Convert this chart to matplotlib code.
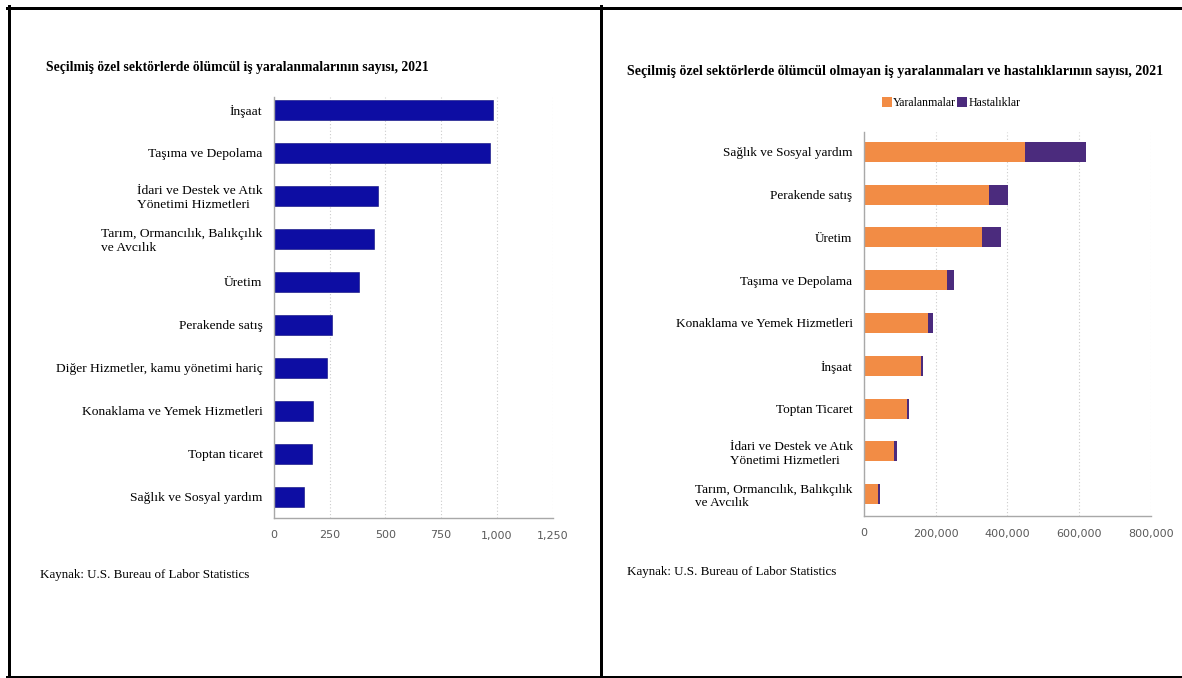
#!/usr/bin/env python3
"""
Two side-by-side horizontal bar charts (BLS 2021): fatal work injuries by
sector, and non-fatal injuries + illnesses by sector. Writes out.png.
"""

import matplotlib
matplotlib.use("Agg")
import matplotlib.pyplot as plt
from matplotlib.lines import Line2D
from matplotlib.patches import Patch
from matplotlib.ticker import FuncFormatter

# --- data -----------------------------------------------------------------
fatal_sectors = [
    "İnşaat",
    "Taşıma ve Depolama",
    "İdari ve Destek ve Atık\nYönetimi Hizmetleri",
    "Tarım, Ormancılık, Balıkçılık\nve Avcılık",
    "Üretim",
    "Perakende satış",
    "Diğer Hizmetler, kamu yönetimi hariç",
    "Konaklama ve Yemek Hizmetleri",
    "Toptan ticaret",
    "Sağlık ve Sosyal yardım",
]
fatal_counts = [984, 969, 466, 450, 381, 260, 237, 178, 173, 134]
fatal_ticks = [0, 250, 500, 750, 1000, 1250]

nonfatal_sectors = [
    "Sağlık ve Sosyal yardım",
    "Perakende satış",
    "Üretim",
    "Taşıma ve Depolama",
    "Konaklama ve Yemek Hizmetleri",
    "İnşaat",
    "Toptan Ticaret",
    "İdari ve Destek ve Atık\nYönetimi Hizmetleri",
    "Tarım, Ormancılık, Balıkçılık\nve Avcılık",
]
injuries = [449200, 349900, 330400, 231100, 179100, 159600, 121600, 85400, 39000]
illnesses = [169800, 52000, 52000, 19500, 13000, 5600, 5500, 8300, 5500]
nonfatal_ticks = [0, 200000, 400000, 600000, 800000]

TITLE_L = "Seçilmiş özel sektörlerde ölümcül iş yaralanmalarının sayısı, 2021"
TITLE_R = ("Seçilmiş özel sektörlerde ölümcül olmayan iş yaralanmaları "
           "ve hastalıklarının sayısı, 2021")
SOURCE = "Kaynak: U.S. Bureau of Labor Statistics"

NAVY = "#0d0da3"
ORANGE = "#f28c45"
PURPLE = "#4b2b7d"
SERIF = "Liberation Serif"
SANS = "DejaVu Sans"

W, H = 1182, 678


def px_axes(fig, x0, y0, x1, y1):
    # pixel box (top-left origin) -> figure axes
    return fig.add_axes([x0 / W, 1 - y1 / H, (x1 - x0) / W, (y1 - y0) / H])


def style(ax, ticks, fmt, ysize):
    for s in ("top", "right"):
        ax.spines[s].set_visible(False)
    for s in ("left", "bottom"):
        ax.spines[s].set_color("#a8a8a8")
        ax.spines[s].set_linewidth(1.0)
    ax.set_xticks(ticks)
    ax.set_xlim(ticks[0], ticks[-1])
    ax.xaxis.set_major_formatter(FuncFormatter(fmt))
    ax.tick_params(axis="x", length=0, pad=9, labelsize=8, labelcolor="#5a5a5a")
    ax.tick_params(axis="y", length=0, pad=8, labelsize=ysize)
    for lab in ax.get_xticklabels():
        lab.set_family(SANS)
    for lab in ax.get_yticklabels():
        lab.set_family(SERIF)
        lab.set_multialignment("left")
    ax.grid(axis="x", linestyle=(0, (1, 2)), color="#cccccc", linewidth=0.8)
    ax.set_axisbelow(True)


def main():
    fig = plt.figure(figsize=(W / 100, H / 100), dpi=100)

    # left panel: fatal injuries
    ax1 = px_axes(fig, 273.7, 97, 552.7, 518)
    y1 = range(len(fatal_sectors))
    ax1.barh(y1, fatal_counts, height=0.48, color=NAVY,
             edgecolor="#08087a", linewidth=0.4)
    ax1.set_yticks(list(y1))
    ax1.set_yticklabels(fatal_sectors)
    ax1.set_ylim(9.49, -0.3)
    style(ax1, fatal_ticks, lambda v, p: f"{int(v):,}", 9.7)

    # right panel: non-fatal injuries + illnesses (stacked)
    ax2 = px_axes(fig, 863.7, 131.7, 1151, 516)
    y2 = range(len(nonfatal_sectors))
    ax2.barh(y2, injuries, height=0.47, color=ORANGE)
    ax2.barh(y2, illnesses, left=injuries, height=0.47, color=PURPLE)
    ax2.set_yticks(list(y2))
    ax2.set_yticklabels(nonfatal_sectors)
    ax2.set_ylim(8.51, -0.47)
    style(ax2, nonfatal_ticks, lambda v, p: f"{int(v):,}", 9.5)

    # titles and source notes
    fig.text(46 / W, 1 - 68 / H, TITLE_L, family=SERIF, fontweight="bold",
             fontsize=9.85, ha="left", va="center")
    fig.text(627 / W, 1 - 72 / H, TITLE_R, family=SERIF, fontweight="bold",
             fontsize=10.05, ha="left", va="center")
    fig.text(40 / W, 1 - 575 / H, SOURCE, family=SERIF, fontsize=9.4,
             ha="left", va="center")
    fig.text(627 / W, 1 - 572 / H, SOURCE, family=SERIF, fontsize=9.4,
             ha="left", va="center")

    legend = [Patch(facecolor=ORANGE, label="Yaralanmalar"),
              Patch(facecolor=PURPLE, label="Hastalıklar")]
    fig.legend(handles=legend, loc="center", ncol=2, frameon=False,
               bbox_to_anchor=(951 / W, 1 - 103 / H),
               prop={"family": SERIF, "size": 8.6},
               handlelength=0.85, handleheight=0.85, handletextpad=0.1,
               columnspacing=0.1, borderpad=0.1)

    # black frame around the two panels
    lw = 3 * 72 / 100
    for xs, ys in [((7 / W, 1), (1 - 7.5 / H,) * 2),
                   ((8.5 / W,) * 2, (0, 1 - 6 / H)),
                   ((600.5 / W,) * 2, (0, 1 - 6 / H)),
                   ((7 / W, 1), (1 - 677 / H,) * 2)]:
        fig.add_artist(Line2D(xs, ys, color="black", linewidth=lw,
                              transform=fig.transFigure))

    fig.savefig("out.png", dpi=100)
    plt.close(fig)


if __name__ == "__main__":
    main()
